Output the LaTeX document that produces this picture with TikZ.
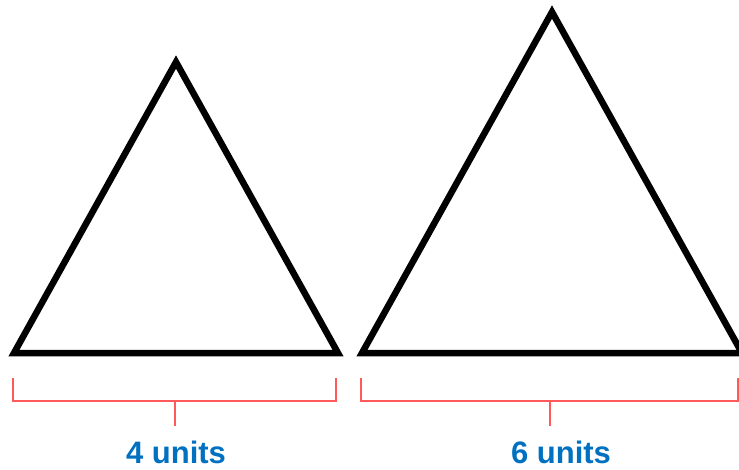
\documentclass[tikz,border=0pt]{standalone}
\usepackage{fontspec}
\setmainfont{Liberation Sans}
\usepackage{xcolor}
\usepackage{tikz}
\definecolor{unitblue}{RGB}{0,112,192}
\definecolor{bracketred}{RGB}{255,90,90}

\begin{document}
\begin{tikzpicture}[
  x=1pt, y=-1pt,
  tri/.style={draw=black, line width=6.5pt, miter limit=10, line join=miter},
  bracket/.style={draw=bracketred, line width=1.2pt},
  lbl/.style={font=\fontsize{31}{32}\selectfont\bfseries, text=unitblue, anchor=base}
]
\useasboundingbox[clip] (0,0) rectangle (739,469);

% --- Triangles ---
\draw[tri] (14,353) -- (338,353) -- (176,62) -- cycle;
\draw[tri] (362,353) -- (742,353) -- (552,12) -- cycle;

% --- Brackets ---
\coordinate (lb1) at (13,378);
\coordinate (lb2) at (336,378);
\coordinate (lbm) at (175,401);
\draw[bracket] (lb1) |- (lbm) -| (lb2);
\draw[bracket] (lbm) -- ++(0,25) coordinate (lbt);

\coordinate (rb1) at (361,378);
\coordinate (rb2) at (738,378);
\coordinate (rbm) at (550,401);
\draw[bracket] (rb1) |- (rbm) -| (rb2);
\draw[bracket] (rbm) -- ++(0,25) coordinate (rbt);

% --- Labels ---
\node[lbl] (four) at (176,463) {4 units};
\node[lbl] (six) at (561,463) {6 units};

\end{tikzpicture}
\end{document}
